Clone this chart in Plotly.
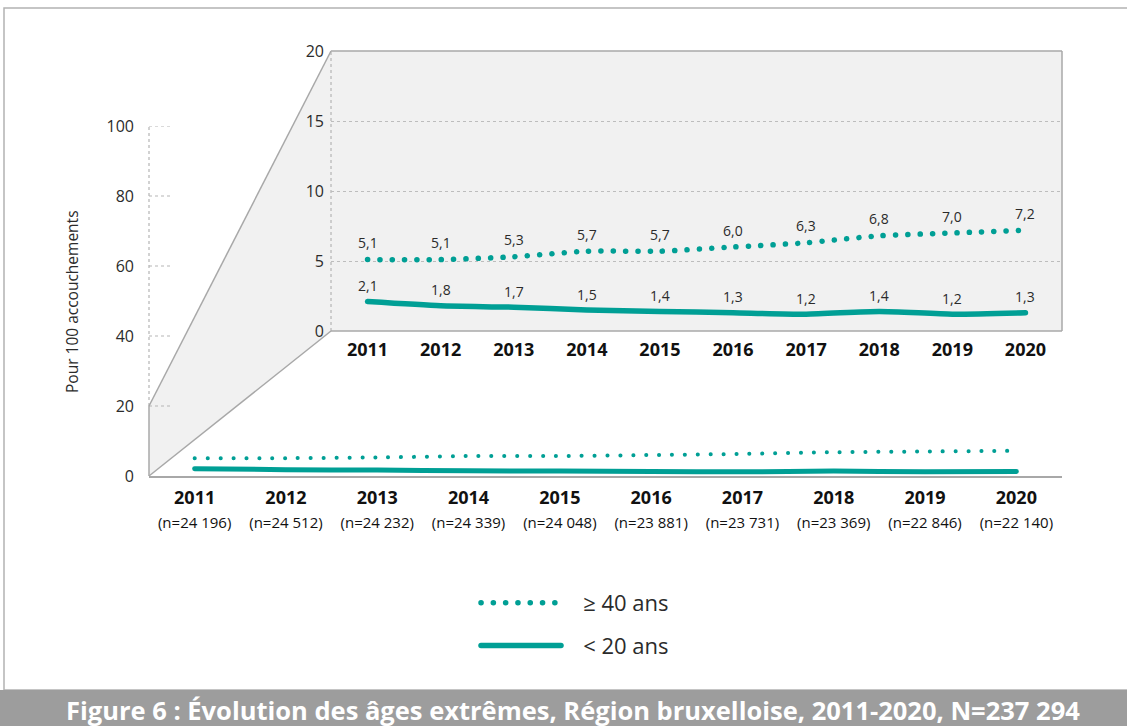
import plotly.graph_objects as go

# Births by year and rate of deliveries per 100 for the two extreme age groups
years = [2011, 2012, 2013, 2014, 2015, 2016, 2017, 2018, 2019, 2020]
n_births = ["24 196", "24 512", "24 232", "24 339", "24 048",
            "23 881", "23 731", "23 369", "22 846", "22 140"]
age_40_plus = [5.1, 5.1, 5.3, 5.7, 5.7, 6.0, 6.3, 6.8, 7.0, 7.2]
age_under_20 = [2.1, 1.8, 1.7, 1.5, 1.4, 1.3, 1.2, 1.4, 1.2, 1.3]
main_ticks = [0, 20, 40, 60, 80, 100]
zoom_ticks = [0, 5, 10, 15, 20]

name_40 = "\u00a0\u00a0\u00a0≥ 40 ans"
name_20 = "\u00a0\u00a0\u00a0&lt; 20 ans"
title = "Figure 6 : Évolution des âges extrêmes, Région bruxelloise, 2011-2020, N=237 294"
y_title = "Pour 100 accouchements"

TEAL = "#009f95"
GREY = "#a8a8a8"
TEXT = "#2b2b2b"
FONT = "Open Sans"

W, H = 1127, 726


def px(x):
    return x / W


def py(y):
    return 1 - y / H


# pixel frames of the main chart and the magnified 0-20 panel
MAIN_L, MAIN_R, MAIN_B, MAIN_T = 149, 1062, 476, 126
ZOOM_L, ZOOM_R, ZOOM_B, ZOOM_T = 331, 1062, 331, 51
MAIN_MAX = main_ticks[-1]
ZOOM_MAX = zoom_ticks[-1]
main_zoom_top = MAIN_B - (ZOOM_MAX / MAIN_MAX) * (MAIN_B - MAIN_T)


def fmt(v):
    return f"{v:.1f}".replace(".", ",")


fig = go.Figure()

# main chart (0-100)
fig.add_trace(go.Scatter(
    x=years, y=age_40_plus, mode="lines", xaxis="x", yaxis="y",
    line=dict(color=TEAL, width=4, dash="0.1px,12.8px", shape="spline", smoothing=0.6),
    showlegend=False, hoverinfo="skip"))
fig.add_trace(go.Scatter(
    x=years, y=age_under_20, mode="lines", xaxis="x", yaxis="y",
    line=dict(color=TEAL, width=5, shape="spline", smoothing=0.6),
    showlegend=False, hoverinfo="skip"))

# magnified panel (0-20)
fig.add_trace(go.Scatter(
    x=years, y=age_40_plus, mode="lines", xaxis="x2", yaxis="y2", name=name_40,
    legendgroup="a",
    line=dict(color=TEAL, width=5.5, dash="0.1px,12.2px", shape="spline", smoothing=0.6),
    hoverinfo="skip"))
fig.add_trace(go.Scatter(
    x=years, y=age_under_20, mode="lines", xaxis="x2", yaxis="y2", name=name_20,
    legendgroup="b",
    line=dict(color=TEAL, width=5.5, shape="spline", smoothing=0.6),
    hoverinfo="skip"))

annotations = []
for yr, v in zip(years, age_40_plus):
    annotations.append(dict(x=yr, y=v, xref="x2", yref="y2", text=fmt(v),
                            showarrow=False, yshift=17,
                            font=dict(family=FONT, size=14, color=TEXT)))
for yr, v in zip(years, age_under_20):
    annotations.append(dict(x=yr, y=v, xref="x2", yref="y2", text=fmt(v),
                            showarrow=False, yshift=16,
                            font=dict(family=FONT, size=14, color=TEXT)))

annotations.append(dict(x=px(72), y=py(302), xref="paper", yref="paper",
                        xanchor="center", yanchor="middle",
                        text=y_title, textangle=-90, showarrow=False,
                        font=dict(family=FONT, size=15.5, color=TEXT)))
annotations.append(dict(x=px(573), y=py(710), xref="paper", yref="paper",
                        xanchor="center", yanchor="middle",
                        text=f"<b>{title}</b>", showarrow=False,
                        font=dict(family=FONT, size=25.5, color="white")))

main_ticktext = [f"<b>{y}</b><br><span style='font-size:15px'>(n={n})</span>"
                 for y, n in zip(years, n_births)]

shapes = []
# grey funnel joining the main 0-20 band to the magnified panel
path = (f"M{px(MAIN_L)},{py(main_zoom_top)} L{px(ZOOM_L)},{py(ZOOM_T)} "
        f"L{px(ZOOM_R)},{py(ZOOM_T)} L{px(ZOOM_R)},{py(ZOOM_B)} "
        f"L{px(ZOOM_L)},{py(ZOOM_B)} L{px(MAIN_L)},{py(MAIN_B)} Z")
shapes.append(dict(type="path", path=path, xref="paper", yref="paper",
                   fillcolor="#f1f1f1", line=dict(width=0), layer="below"))
edge = dict(color=GREY, width=1.5)
for x0, y0, x1, y1 in [
    (MAIN_L, main_zoom_top, ZOOM_L, ZOOM_T),
    (MAIN_L, MAIN_B, ZOOM_L, ZOOM_B),
    (MAIN_L, main_zoom_top, MAIN_L, MAIN_B),
    (ZOOM_L, ZOOM_T, ZOOM_R, ZOOM_T),
    (ZOOM_R, ZOOM_T, ZOOM_R, ZOOM_B),
    (ZOOM_L, ZOOM_B, ZOOM_R, ZOOM_B),
]:
    shapes.append(dict(type="line", xref="paper", yref="paper",
                       x0=px(x0), y0=py(y0), x1=px(x1), y1=py(y1),
                       line=edge, layer="above"))

dotted = dict(color="#b5b5b5", width=1.2, dash="dot")
# dotted main y axis above the funnel, and short grid stubs
shapes.append(dict(type="line", xref="x domain", yref="y", x0=0, x1=0,
                   y0=ZOOM_MAX, y1=MAIN_MAX, line=dotted, layer="below"))
for t in main_ticks[1:]:
    shapes.append(dict(type="line", xref="x domain", yref="y", x0=0, x1=24 / (MAIN_R - MAIN_L),
                       y0=t, y1=t, line=dotted, layer="below"))
# dotted left edge of the magnified panel
shapes.append(dict(type="line", xref="x2 domain", yref="y2", x0=0, x1=0,
                   y0=0, y1=ZOOM_MAX, line=dotted, layer="below"))

# outer frame and caption band
shapes.append(dict(type="rect", xref="paper", yref="paper",
                   x0=px(4), y0=py(690), x1=px(1140), y1=py(8),
                   line=dict(color="#b3b3b3", width=1.5), layer="below"))
shapes.append(dict(type="rect", xref="paper", yref="paper",
                   x0=0, y0=0, x1=1, y1=py(690),
                   fillcolor="#9d9d9d", line=dict(width=0), layer="below"))

fig.update_layout(
    width=W, height=H,
    margin=dict(l=0, r=0, t=0, b=0, autoexpand=False),
    paper_bgcolor="white", plot_bgcolor="rgba(0,0,0,0)",
    font=dict(family=FONT, color=TEXT),
    xaxis=dict(domain=[px(MAIN_L), px(MAIN_R)], range=[years[0] - 0.5, years[-1] + 0.5],
               tickvals=years, ticktext=main_ticktext, showgrid=False, zeroline=False,
               showline=True, linecolor=GREY, linewidth=1.5, ticks="",
               ticklabelstandoff=5, tickfont=dict(family=FONT, size=18, color="#111")),
    yaxis=dict(domain=[py(MAIN_B), py(MAIN_T)], range=[0, MAIN_MAX], tickvals=main_ticks,
               showgrid=False, zeroline=False, showline=False, ticks="",
               ticklabelstandoff=14, tickfont=dict(family=FONT, size=16, color=TEXT)),
    xaxis2=dict(domain=[px(ZOOM_L), px(ZOOM_R)], range=[years[0] - 0.5, years[-1] + 0.5],
                tickvals=years, ticktext=[f"<b>{y}</b>" for y in years],
                showgrid=False, zeroline=False, showline=False, ticks="", anchor="y2",
                ticklabelstandoff=6, tickfont=dict(family=FONT, size=18, color="#111")),
    yaxis2=dict(domain=[py(ZOOM_B), py(ZOOM_T)], range=[0, ZOOM_MAX], tickvals=zoom_ticks,
                anchor="x2", showgrid=True, gridcolor="#bdbdbd", griddash="dot", gridwidth=1,
                zeroline=False, showline=False, ticks="", ticklabelstandoff=6,
                tickfont=dict(family=FONT, size=16, color=TEXT)),
    legend=dict(x=px(476), y=py(582), xanchor="left", yanchor="top",
                font=dict(family=FONT, size=22, color=TEXT), itemwidth=80,
                tracegroupgap=11, bgcolor="rgba(0,0,0,0)"),
    shapes=shapes,
    annotations=annotations,
)

# round caps turn the short dashes into round dots
post = """
var gd = document.getElementById('{plot_id}');
gd.querySelectorAll('path.js-line').forEach(function (p) {
    p.style.strokeLinecap = 'round';
});
"""

fig.write_html("out.html", post_script=post)
